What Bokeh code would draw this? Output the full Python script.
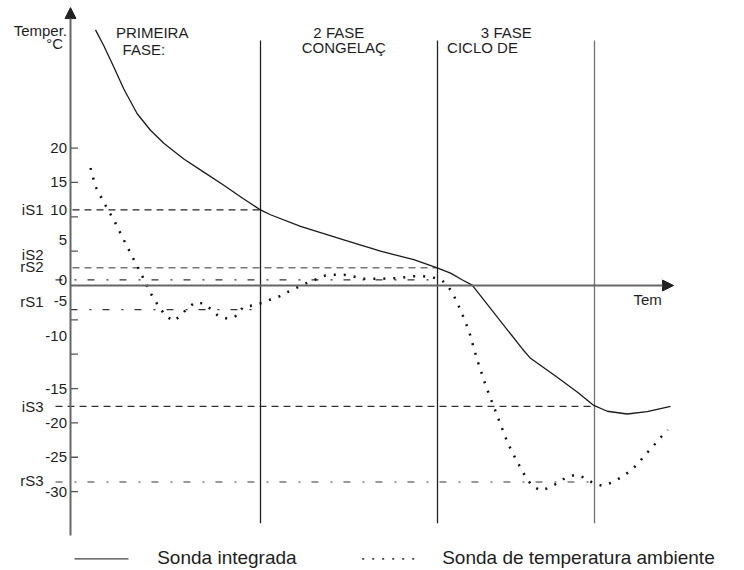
from bokeh.plotting import figure
from bokeh.models import Range1d, Arrow, NormalHead
from bokeh.core.properties import value
from bokeh.embed import file_html
from bokeh.resources import INLINE

# ---------------- data ----------------
# Sonda integrada (solid line): time units, temperature in degC
tempo_integrada = [2.5, 3.33, 4.33, 5.33, 6.67, 8.0, 9.33, 11.33, 13.33, 15.33,
                   17.33, 19.0, 20.0, 23.0, 27.33, 31.0, 34.33, 36.67, 38.0, 39.2,
                   40.17, 45.17, 46.0, 48.67, 50.67, 52.33, 53.67, 55.67, 57.67, 60.0]
temp_integrada = [37.2, 34.9, 31.8, 28.6, 25.0, 22.6, 20.7, 18.4, 16.5, 14.6,
                  12.6, 11.0, 10.3, 8.6, 6.65, 5.0, 3.75, 2.55, 1.8, 0.8,
                  0.05, -9.2, -10.6, -13.35, -15.5, -17.45, -18.3, -18.7, -18.35, -17.6]

# Sonda de temperatura ambiente (dotted line)
tempo_ambiente = [2.0, 2.5, 3.4, 4.4, 5.27, 6.17, 7.07, 7.93, 8.93, 9.57,
                  10.33, 11.07, 11.73, 12.5, 13.4, 14.1, 14.83, 15.77, 16.67, 17.23,
                  18.17, 19.17, 20.0, 20.93, 21.83, 22.67, 23.67, 24.67, 25.5, 26.33,
                  27.33, 28.17, 29.17, 31.17, 33.17, 34.0, 35.17, 36.17, 37.17, 37.83,
                  38.33, 39.1, 39.83, 40.67, 41.6, 42.67, 43.73, 44.6, 45.57, 46.17,
                  47.0, 47.93, 48.77, 49.6, 50.53, 51.43, 52.27, 53.17, 54.07, 54.93,
                  55.77, 56.47, 57.13, 57.8, 58.43, 59.1, 59.73]
temp_ambiente = [17.1, 14.4, 11.9, 9.36, 6.8, 4.22, 1.7, -0.92, -3.3, -4.47,
                 -5.2, -4.29, -3.25, -2.43, -2.66, -3.54, -4.51, -4.85, -4.37, -3.16,
                 -2.91, -2.52, -2.04, -1.56, -0.87, -0.29, 0.39, 0.98, 1.46, 1.56,
                 1.56, 1.35, 0.98, 0.98, 1.12, 1.35, 1.35, 1.21, 0.73, -0.25,
                 -1.46, -3.89, -6.55, -10.82, -14.89, -18.92, -22.96, -25.47, -27.99, -29.16,
                 -29.84, -29.4, -28.68, -27.9, -27.55, -27.99, -28.78, -29.16, -28.72, -28.03,
                 -27.22, -26.3, -25.23, -24.12, -23.1, -21.98, -21.0]

# phase boundaries (time) and phase titles
fases_t = [19.0, 36.7, 52.4]
fase_linha1 = ["PRIMEIRA", "2 FASE", "3 FASE"]
fase_linha2 = ["FASE:", "CONGELAÇ", "CICLO DE"]

# y axis ticks and labels
tick_vals = [20, 15, 10, 5, -5, -10, -15, -20, -25, -30]
tick_labels = ["20", "15", "10", "5", "0", "-5", "-10", "-15", "-20", "-25", "-30"]
tick_label_y = [20.0, 15.0, 11.0, 6.65, 0.73, -2.29, -7.28, -15.0, -20.0, -25.0, -30.0]

# set points (horizontal reference lines)
sp_names = ["iS1", "iS2", "rS2", "rS1", "iS3", "rS3"]
sp_label_y = [11.0, 4.51, 2.81, -2.29, -17.61, -28.38]
dashed_y = [11.0, 2.58, -17.6]
dashed_t0 = [0.2, 0.2, -1.5]
dashed_t1 = [19.0, 36.7, 52.4]
dashed_col = ["#222222", "#777777", "#333333"]
dashdot_y = [0.83, -3.5, -28.6]
dashdot_t0 = [-1.5, 0.0, -1.5]
dashdot_t1 = [36.7, 19.0, 52.4]
dashdot_col = ["#333333", "#333333", "#777777"]

legend_labels = ["Sonda integrada", "Sonda de temperatura ambiente"]

FONT = value("Liberation Sans")
TXT = "#1e1e1e"

# ---------------- figure ----------------
p = figure(width=744, height=570, x_range=Range1d(-7.0, 67.4), y_range=Range1d(-41.48, 41.48),
           output_backend="svg", toolbar_location=None, x_axis_location=None, y_axis_location=None,
           min_border=0, outline_line_color=None, background_fill_color="white",
           border_fill_color="white")
p.grid.visible = False

# reference lines
for y, a, b, c in zip(dashed_y, dashed_t0, dashed_t1, dashed_col):
    p.line([a, b], [y, y], line_color=c, line_width=1.3, line_dash="7 5")
for y, a, b, c in zip(dashdot_y, dashdot_t0, dashdot_t1, dashdot_col):
    p.line([a, b], [y, y], line_color=c, line_width=1.3, line_dash="7 12 2 11")

# phase separators
sep_col = ["#222222", "#222222", "#707070"]
for t, c in zip(fases_t, sep_col):
    p.line([t, t], [35.66, -34.6], line_color=c, line_width=1.3)

# axes
p.add_layout(Arrow(end=NormalHead(size=11, fill_color="#222222", line_color="#222222"),
                   x_start=0, y_start=-36.4, x_end=0, y_end=40.45,
                   line_color="#666666", line_width=2))
p.add_layout(Arrow(end=NormalHead(size=11, fill_color="#222222", line_color="#222222"),
                   x_start=0, y_start=0, x_end=60.3, y_end=0,
                   line_color="#666666", line_width=2))
p.segment(x0=[0] * len(tick_vals), y0=tick_vals, x1=[0.75] * len(tick_vals), y1=tick_vals,
          line_color="#555555", line_width=1.3)

# curves
p.line(tempo_integrada, temp_integrada, line_color="#1a1a1a", line_width=1.3)
p.line(tempo_ambiente, temp_ambiente, line_color="#111111", line_width=2.5, line_dash="2 8")

# tick labels
p.text(x=[-0.35] * len(tick_labels), y=tick_label_y, text=tick_labels, text_font=FONT,
       text_font_size="15px", text_align="right", text_baseline="middle", text_color=TXT)
p.text(x=[-2.7] * len(sp_names), y=sp_label_y, text=sp_names, text_font=FONT,
       text_font_size="15px", text_align="right", text_baseline="middle", text_color=TXT)

# axis titles
p.text(x=[-0.35, -0.75], y=[37.1, 35.2], text=["Temper.", "°C"], text_font=FONT,
       text_font_size="15px", text_align="right", text_baseline="middle", text_color=TXT)
p.text(x=[56.3], y=[-2.04], text=["Tem"], text_font=FONT, text_font_size="15px",
       text_align="left", text_baseline="middle", text_color=TXT)

# phase titles
p.text(x=[8.17, 26.83, 43.58], y=[36.87, 36.87, 36.87], text=fase_linha1, text_font=FONT,
       text_font_size="15px", text_align="center", text_baseline="middle", text_color=TXT)
p.text(x=[7.33, 27.33, 41.2], y=[34.3, 34.67, 34.67], text=fase_linha2, text_font=FONT,
       text_font_size="15px", text_align="center", text_baseline="middle", text_color=TXT)

# legend
p.line([0.4, 5.8], [-39.8, -39.8], line_color="#444444", line_width=1.3)
p.line([29.17, 34.4], [-39.8, -39.8], line_color="#444444", line_width=1.8, line_dash="2 8")
p.text(x=[8.67, 37.17], y=[-39.6, -39.6], text=legend_labels, text_font=FONT,
       text_font_size="19px", text_align="left", text_baseline="middle", text_color=TXT)

open("out.html", "w").write(file_html(p, INLINE))
